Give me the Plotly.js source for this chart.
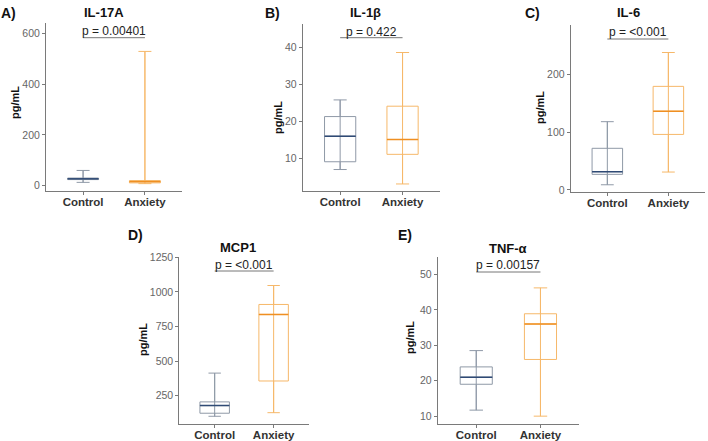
<!DOCTYPE html>
<html>
<head>
<meta charset="utf-8">
<script src="https://cdn.plot.ly/plotly-3.0.1.min.js"></script>
<style>html,body{margin:0;padding:0;background:#fff;}#chart{width:708px;height:441px;}</style>
</head>
<body>
<div id="chart"></div>
<script>
// ---- Data ----
const panels = ['IL-17A', 'IL-1β', 'IL-6', 'MCP1', 'TNF-α'];
const letters = ['A)', 'B)', 'C)', 'D)', 'E)'];
const pLabels = ['p = 0.00401', 'p = 0.422', 'p = <0.001', 'p = <0.001', 'p = 0.00157'];
const groups = ['Control', 'Anxiety'];
const ctrlLow  = [13, 7.0, 9, 101, 11.7];
const ctrlQ1   = [24, 9.1, 27, 123, 19.0];
const ctrlMed  = [27, 16.0, 31.7, 178, 21.0];
const ctrlQ3   = [30, 21.3, 72, 205, 23.9];
const ctrlHigh = [60, 25.8, 118, 413, 28.5];
const anxLow   = [8, 3.1, 31, 127, 10.0];
const anxQ1    = [11, 11.1, 96, 356, 26.0];
const anxMed   = [16, 15.1, 136, 837, 36.0];
const anxQ3    = [20, 24.1, 179, 909, 38.9];
const anxHigh  = [529, 38.6, 237.5, 1046, 46.2];
const yTicks = [[0, 200, 400, 600], [10, 20, 30, 40], [0, 100, 200], [250, 500, 750, 1000, 1250], [10, 20, 30, 40, 50]];
const yRanges = [[-21, 641], [1.2, 46.3], [-4, 285], [43, 1252], [7.7, 55]];

// ---- Layout geometry (pixels) ----
const W = 708, H = 441;
const geo = [
  {x0: 46,    x1: 182,  yTop: 23,    yBot: 191,   titleX: 104, titleY: 13,  letX: 8,   letY: 13,  pY: 31.5, lineY: 37.7, ytX: 15,  ytY: 103},
  {x0: 302.7, x1: 440,  yTop: 24,    yBot: 191,   titleX: 365, titleY: 13,  letX: 272, letY: 13,  pY: 32,   lineY: 37.7, ytX: 278, ytY: 118},
  {x0: 570.7, x1: 705,  yTop: 25,    yBot: 192.3, titleX: 628, titleY: 13,  letX: 532, letY: 13,  pY: 32,   lineY: 39,   ytX: 540, ytY: 108},
  {x0: 179.3, x1: 309,  yTop: 257,   yBot: 424.3, titleX: 238, titleY: 247, letX: 135, letY: 235, pY: 265,  lineY: 271,  ytX: 143, ytY: 340},
  {x0: 437.7, x1: 579,  yTop: 256.7, yBot: 424.3, titleX: 508, titleY: 248, letX: 405, letY: 235, pY: 265,  lineY: 272,  ytX: 410, ytY: 338}
];
const px = v => v / W;
const py = v => 1 - v / H;

const ctrlLine = '#8f99a7', ctrlMedC = '#2f4a75';
const anxLine = '#f6b86a', anxMedC = '#ef8f22';
const axisColor = '#7a7a7a';
const font = 'Liberation Sans, Arial, sans-serif';

const traces = [];
const layout = {
  width: W, height: H,
  margin: {l: 0, r: 0, t: 0, b: 0},
  paper_bgcolor: '#fff', plot_bgcolor: '#fff',
  showlegend: false,
  font: {family: font},
  annotations: [], shapes: []
};

const halfBox = 0.25;
panels.forEach((name, i) => {
  const k = i === 0 ? '' : String(i + 1);
  const xa = 'x' + k, ya = 'y' + k;
  const g = geo[i];
  const stats = [
    {low: ctrlLow[i], q1: ctrlQ1[i], med: ctrlMed[i], q3: ctrlQ3[i], high: ctrlHigh[i], lc: ctrlLine, mc: ctrlMedC},
    {low: anxLow[i], q1: anxQ1[i], med: anxMed[i], q3: anxQ3[i], high: anxHigh[i], lc: anxLine, mc: anxMedC}
  ];
  stats.forEach((s, j) => {
    // vertical whisker line running through the box
    traces.push({type: 'scatter', mode: 'lines', x: [j, j], y: [s.low, s.high], xaxis: xa, yaxis: ya,
      line: {color: s.lc, width: 1}, hoverinfo: 'skip'});
    traces.push({type: 'box', name: groups[j], x: [j], xaxis: xa, yaxis: ya,
      q1: [s.q1], median: [s.med], q3: [s.q3], lowerfence: [s.low], upperfence: [s.high],
      width: 2 * halfBox, whiskerwidth: 0.42, fillcolor: 'rgba(0,0,0,0)',
      line: {color: s.lc, width: 1}, boxpoints: false});
    // darker median line
    traces.push({type: 'scatter', mode: 'lines', x: [j - halfBox, j + halfBox], y: [s.med, s.med], xaxis: xa, yaxis: ya,
      line: {color: s.mc, width: 1.5}, hoverinfo: 'skip'});
  });

  const xKey = 'xaxis' + k, yKey = 'yaxis' + k;
  layout[xKey] = {
    domain: [px(g.x0), px(g.x1)], anchor: ya, range: [-0.6, 1.6],
    tickmode: 'array', tickvals: [0, 1], ticktext: groups,
    showline: true, linecolor: axisColor, linewidth: 1,
    ticks: 'outside', ticklen: 3, tickcolor: axisColor,
    ticklabelstandoff: -3,
    showgrid: false, zeroline: false, fixedrange: true,
    tickfont: {family: font, size: 11.5, color: '#333', weight: 'bold'}
  };
  layout[yKey] = {
    domain: [py(g.yBot), py(g.yTop)], anchor: xa, range: yRanges[i],
    tickmode: 'array', tickvals: yTicks[i],
    showline: true, linecolor: axisColor, linewidth: 1,
    ticks: 'outside', ticklen: 3, tickcolor: axisColor,
    showgrid: false, zeroline: false, fixedrange: true,
    tickfont: {family: font, size: 10.5, color: '#666'}
  };

  // panel title
  layout.annotations.push({text: '<b>' + name + '</b>', xref: 'paper', yref: 'paper', x: px(g.titleX), y: py(g.titleY),
    xanchor: 'center', yanchor: 'middle', showarrow: false, font: {family: font, size: 13, color: '#111'}});
  // panel letter
  layout.annotations.push({text: '<b>' + letters[i] + '</b>', xref: 'paper', yref: 'paper', x: px(g.letX), y: py(g.letY),
    xanchor: 'center', yanchor: 'middle', showarrow: false, font: {family: font, size: 14, color: '#111'}});
  // y title
  layout.annotations.push({text: '<b>pg/mL</b>', xref: 'paper', yref: 'paper', x: px(g.ytX), y: py(g.ytY),
    xanchor: 'center', yanchor: 'middle', textangle: -90, showarrow: false, font: {family: font, size: 11, color: '#111'}});
  // p-value text
  layout.annotations.push({text: pLabels[i], xref: xa, yref: 'paper', x: 0.5, y: py(g.pY),
    xanchor: 'center', yanchor: 'middle', showarrow: false, font: {family: font, size: 12, color: '#222'}});
  // comparison bar
  layout.shapes.push({type: 'line', xref: xa, yref: 'paper', x0: 0, x1: 1, y0: py(g.lineY), y1: py(g.lineY),
    line: {color: '#777', width: 1}});
});

Plotly.newPlot('chart', traces, layout, {displayModeBar: false, staticPlot: true});
</script>
</body>
</html>
